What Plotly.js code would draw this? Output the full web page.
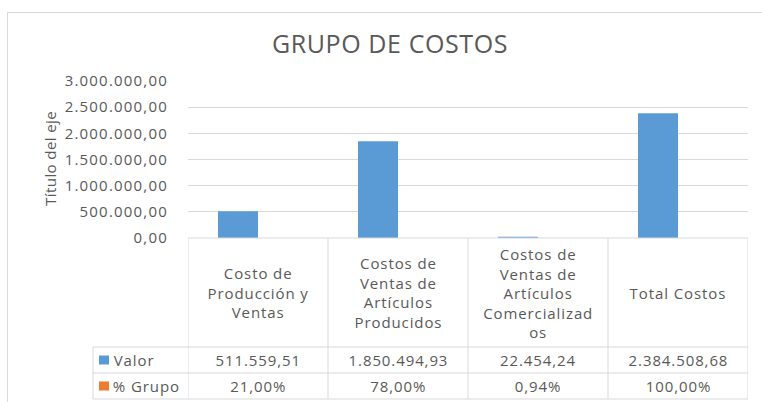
<!DOCTYPE html>
<html>
<head>
<meta charset="utf-8">
<script src="https://cdn.plot.ly/plotly-3.0.1.min.js"></script>
<style>
  html, body { margin: 0; padding: 0; background: #ffffff; }
  #chart { width: 762px; height: 402px; }
  #chart .ytick text { letter-spacing: 1.2px; }
  #chart .annotation-text { letter-spacing: 0.9px; }
  #chart .gtitle { letter-spacing: 0.6px; }
</style>
</head>
<body>
<div id="chart"></div>
<script>
// ---- Data ----
const categories = [
  'Costo de Producción y Ventas',
  'Costos de Ventas de Artículos Producidos',
  'Costos de Ventas de Artículos Comercializados',
  'Total Costos'
];
const headerLabels = [
  'Costo de<br>Producción y<br>Ventas',
  'Costos de<br>Ventas de<br>Artículos<br>Producidos',
  'Costos de<br>Ventas de<br>Artículos<br>Comercializad<br>os',
  'Total Costos'
];
const valor = [511559.51, 1850494.93, 22454.24, 2384508.68];
const grupoPct = [21.00, 78.00, 0.94, 100.00];
const seriesNames = ['Valor', '% Grupo'];
const seriesColors = ['#5b9bd5', '#ed7d31'];
const yTickVals = [0, 500000, 1000000, 1500000, 2000000, 2500000, 3000000];
const chartTitle = 'GRUPO DE COSTOS';
const yTitle = 'Título del eje';

// ---- Layout helpers (pixel -> paper) ----
const W = 762, H = 402;
const M = { l: 188, r: 14, t: 81, b: 164 };
const PW = W - M.l - M.r, PH = H - M.t - M.b;
const px = p => (p - M.l) / PW;
const py = p => (H - M.b - p) / PH;

const fmtNum = v => new Intl.NumberFormat('de-DE', { minimumFractionDigits: 2, maximumFractionDigits: 2 }).format(v);
const fmtPct = v => fmtNum(v) + '%';

const textColor = '#595959';
const lineColor = '#d9d9d9';
const fontFam = '"Open Sans", "DejaVu Sans", sans-serif';

const traces = [
  { type: 'bar', name: seriesNames[0], x: categories, y: valor, marker: { color: seriesColors[0] }, hoverinfo: 'skip' },
  { type: 'bar', name: seriesNames[1], x: categories, y: grupoPct, marker: { color: seriesColors[1] }, hoverinfo: 'skip' }
];

const shapes = [];
const annotations = [];
const line = (xref, x0, x1, yref, y0, y1) => shapes.push({
  type: 'line', xref, yref, x0, x1, y0, y1, line: { color: lineColor, width: 1 }, layer: 'above'
});

// outer chart frame
shapes.push({ type: 'rect', xref: 'paper', yref: 'paper', x0: px(7.5), x1: px(790), y0: py(12.5), y1: py(430),
  line: { color: lineColor, width: 1 }, fillcolor: 'rgba(0,0,0,0)', layer: 'below' });

// table grid
const yTop = 0, yRow1 = py(347), yRow2 = py(373), yBot = py(399);
for (let i = 0; i <= categories.length; i++) line('x', i - 0.5, i - 0.5, 'paper', yTop, yBot);
line('paper', 0, 1, 'paper', yTop, yTop);
line('paper', px(93), 1, 'paper', yRow1, yRow1);
line('paper', px(93), 1, 'paper', yRow2, yRow2);
line('paper', px(93), 1, 'paper', yBot, yBot);
line('paper', px(93), px(93), 'paper', yRow1, yBot);

// table header and values
categories.forEach((c, i) => {
  annotations.push({ xref: 'x', yref: 'paper', x: i, y: py(292.5), text: headerLabels[i], showarrow: false,
    xanchor: 'center', yanchor: 'middle', align: 'center', font: { size: 15, color: textColor, family: fontFam } });
  annotations.push({ xref: 'x', yref: 'paper', x: i, y: py(360), text: fmtNum(valor[i]), showarrow: false,
    xanchor: 'center', yanchor: 'middle', font: { size: 15, color: textColor, family: fontFam } });
  annotations.push({ xref: 'x', yref: 'paper', x: i, y: py(386), text: fmtPct(grupoPct[i]), showarrow: false,
    xanchor: 'center', yanchor: 'middle', font: { size: 15, color: textColor, family: fontFam } });
});

// legend keys in table
const rowsY = [360, 386];
seriesNames.forEach((n, k) => {
  shapes.push({ type: 'rect', xref: 'paper', yref: 'paper', x0: px(99), x1: px(109), y0: py(rowsY[k] - 4.5), y1: py(rowsY[k] + 4.5),
    line: { width: 0 }, fillcolor: seriesColors[k], layer: 'above' });
  annotations.push({ xref: 'paper', yref: 'paper', x: px(114), y: py(rowsY[k]), text: n, showarrow: false,
    xanchor: 'left', yanchor: 'middle', font: { size: 15, color: textColor, family: fontFam } });
});

// y axis title
annotations.push({ xref: 'paper', yref: 'paper', x: px(50), y: py(159), text: yTitle, textangle: -90, showarrow: false,
  xanchor: 'center', yanchor: 'middle', font: { size: 15, color: textColor, family: fontFam } });

const st = document.createElement('style');
st.textContent = '#chart .annotation[data-index="' + (annotations.length - 1) + '"] .annotation-text { letter-spacing: 0.4px; }';
document.head.appendChild(st);

const layout = {
  width: W, height: H,
  margin: M,
  paper_bgcolor: '#ffffff', plot_bgcolor: '#ffffff',
  separators: ',.',
  showlegend: false,
  barmode: 'group',
  bargap: 0.4286,
  bargroupgap: 0,
  font: { family: fontFam, color: textColor },
  title: { text: chartTitle, x: 390 / W, xref: 'container', xanchor: 'center', y: 1 - 44 / H, yref: 'container', yanchor: 'middle',
    font: { size: 25, color: textColor, family: fontFam } },
  xaxis: { type: 'category', range: [-0.5, 3.5], showticklabels: false, showgrid: false, zeroline: false, showline: false, ticks: '' },
  yaxis: { range: [0, 3000000], tickvals: yTickVals, tickformat: ',.2f', showgrid: true, gridcolor: lineColor, gridwidth: 1,
    zeroline: false, showline: false, ticks: 'outside', ticklen: 16, tickcolor: 'rgba(0,0,0,0)',
    tickfont: { size: 15, color: textColor, family: fontFam } },
  shapes, annotations
};

Plotly.newPlot('chart', traces, layout, { displayModeBar: false, staticPlot: true });
</script>
</body>
</html>
